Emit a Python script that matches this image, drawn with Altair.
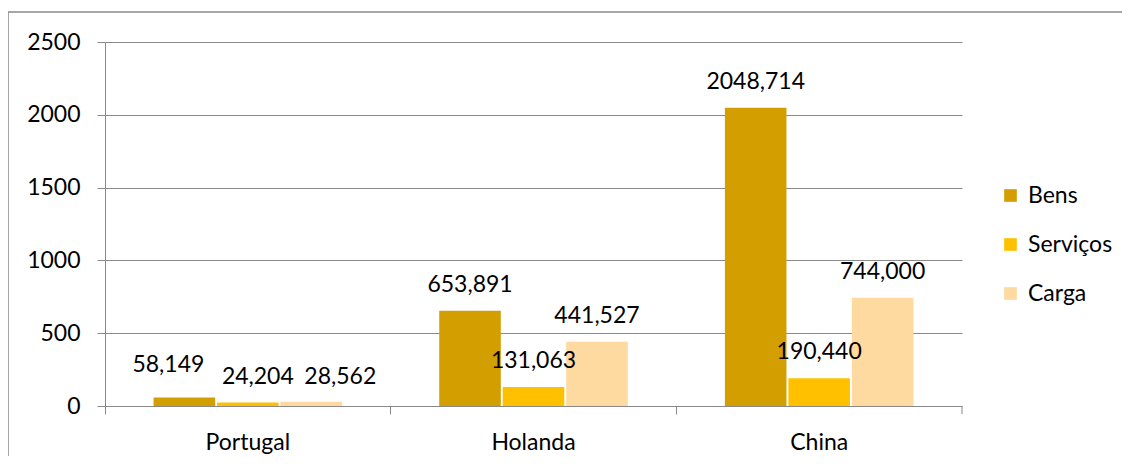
import altair as alt
import pandas as pd

countries = ["Portugal", "Holanda", "China"]
series = ["Bens", "Serviços", "Carga"]
bens = [58.149, 653.891, 2048.714]
servicos = [24.204, 131.063, 190.440]
carga = [28.562, 441.527, 744.000]
y_ticks = [0, 500, 1000, 1500, 2000, 2500]
colors = ["#D39E00", "#FFC000", "#FED9A0"]

rows = []
for s, vals in zip(series, [bens, servicos, carga]):
    for c, v in zip(countries, vals):
        rows.append({"country": c, "series": s, "value": v,
                     "label": f"{v:.3f}".replace(".", ",")})
df = pd.DataFrame(rows)

FONT = "Lato"
FS = 23
GRAY = "#898989"
W, H = 857, 364

# label nudges (dx, dy) like the manually moved labels of the original
nudges = {("Portugal", "Bens"): (-16, -26),
          ("Portugal", "Serviços"): (10, -18),
          ("Portugal", "Carga"): (29, -18)}

x_enc = alt.X("country:N", sort=countries, title=None,
              scale=alt.Scale(paddingInner=0, paddingOuter=0),
              axis=alt.Axis(bandPosition=0, ticks=True, tickSize=8, tickColor=GRAY,
                            domainColor=GRAY, labelAngle=0, labelFont=FONT,
                            labelFontSize=FS, labelColor="black", labelPadding=17,
                            grid=False))
xo_enc = alt.XOffset("series:N", sort=series,
                     scale=alt.Scale(paddingInner=0.03, paddingOuter=0.765))
y_enc = alt.Y("value:Q", title=None,
              scale=alt.Scale(domain=[0, 2500], nice=False),
              axis=alt.Axis(values=y_ticks, format="d", grid=True, gridColor=GRAY,
                            tickColor=GRAY, tickSize=8, domainColor=GRAY, labelFont=FONT,
                            labelFontSize=FS, labelColor="black", labelPadding=17))

base = alt.Chart(df)

bars = base.mark_bar().encode(
    x=x_enc, xOffset=xo_enc, y=y_enc,
    color=alt.Color("series:N", sort=series,
                    scale=alt.Scale(domain=series, range=colors),
                    legend=alt.Legend(title=None, orient="none", legendX=894, legendY=142,
                                      symbolType="square", symbolSize=160,
                                      symbolStrokeWidth=0, labelFont=FONT,
                                      labelFontSize=FS, labelColor="black",
                                      rowPadding=25, labelOffset=6)))

cond = " || ".join(f"(datum.country === '{c}' && datum.series === '{s}')" for c, s in nudges)
text_main = base.transform_filter(f"!({cond})").mark_text(
    baseline="alphabetic", align="center", dy=-19, font=FONT, fontSize=FS, color="black"
).encode(x=alt.X("country:N", sort=countries), xOffset=xo_enc, y="value:Q", text="label:N")

layers = [bars, text_main]
for (c, s), (dx, dy) in nudges.items():
    layers.append(base.transform_filter(
        f"datum.country === '{c}' && datum.series === '{s}'").mark_text(
        baseline="alphabetic", align="center", dx=dx, dy=dy, font=FONT, fontSize=FS,
        color="black").encode(x=alt.X("country:N", sort=countries), xOffset=xo_enc,
                              y="value:Q", text="label:N"))

end_tick = alt.Chart(df.head(1)).mark_rule(color=GRAY, strokeWidth=1).encode(
    x=alt.value(W), y=alt.value(H), y2=alt.value(H + 8))
border = alt.Chart(df.head(1)).mark_rect(fillOpacity=0, stroke=GRAY, strokeWidth=1.5).encode(
    x=alt.value(-97), x2=alt.value(1300), y=alt.value(-30), y2=alt.value(600))
layers += [end_tick, border]

chart = alt.layer(*layers).properties(
    width=W, height=H,
    autosize=alt.AutoSizeParams(type="none"),
    padding={"left": 97, "top": 34, "right": 160, "bottom": 50},
).configure_view(stroke=None).configure_axis(domainWidth=1, tickWidth=1, gridWidth=1)

chart.save("out.html", embed_options={"renderer": "svg", "actions": False})
